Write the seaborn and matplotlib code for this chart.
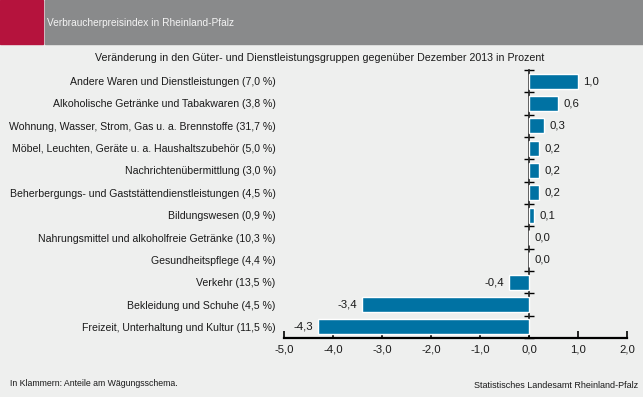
import numpy as np
import pandas as pd
import matplotlib
matplotlib.use("Agg")
import matplotlib.pyplot as plt
from matplotlib.patches import Rectangle
from matplotlib.ticker import FixedLocator, FuncFormatter, NullFormatter
import seaborn as sns

# ---- data ----
categories = [
    "Andere Waren und Dienstleistungen (7,0 %)",
    "Alkoholische Getränke und Tabakwaren (3,8 %)",
    "Wohnung, Wasser, Strom, Gas u. a. Brennstoffe (31,7 %)",
    "Möbel, Leuchten, Geräte u. a. Haushaltszubehör (5,0 %)",
    "Nachrichtenübermittlung (3,0 %)",
    "Beherbergungs- und Gaststättendienstleistungen (4,5 %)",
    "Bildungswesen (0,9 %)",
    "Nahrungsmittel und alkoholfreie Getränke (10,3 %)",
    "Gesundheitspflege (4,4 %)",
    "Verkehr (13,5 %)",
    "Bekleidung und Schuhe (4,5 %)",
    "Freizeit, Unterhaltung und Kultur (11,5 %)",
]
changes = [1.0, 0.6, 0.3, 0.2, 0.2, 0.2, 0.1, 0.0, 0.0, -0.4, -3.4, -4.3]
x_ticks = [-5.0, -4.0, -3.0, -2.0, -1.0, 0.0, 1.0, 2.0]

title = "Verbraucherpreisindex in Rheinland-Pfalz"
subtitle = "Veränderung in den Güter- und Dienstleistungsgruppen gegenüber Dezember 2013 in Prozent"
note = "In Klammern: Anteile am Wägungsschema."
source = "Statistisches Landesamt Rheinland-Pfalz"

BG = "#eeefee"
BAR = "#0072a3"
RED = "#b5133d"
GREY = "#898a8b"
TXT = "#1a1a1a"

sns.set_theme(style="white")
plt.rcParams["font.family"] = ["Liberation Sans", "DejaVu Sans"]
plt.rcParams["font.size"] = 7.6

df = pd.DataFrame({"Gruppe": categories, "Veränderung": changes})

fig = plt.figure(figsize=(6.43, 3.97), dpi=100, facecolor=BG)
ax = fig.add_axes([0.4417, 0.1486, 0.5334, 0.6751])
ax.set_facecolor(BG)

sns.barplot(data=df, x="Veränderung", y="Gruppe", color=BAR, width=0.68,
            orient="h", saturation=1, ax=ax)

ax.set_xlim(-5, 2)
ax.set_ylim(len(categories) - 0.5, -0.5)
ax.set_xlabel("")
ax.set_ylabel("")

def de_fmt(v, pos=None):
    return f"{v:.1f}".replace(".", ",")

ax.xaxis.set_major_locator(FixedLocator(x_ticks))
ax.xaxis.set_major_formatter(FuncFormatter(de_fmt))
ax.tick_params(axis="x", direction="in", length=5, width=1.2, color="black",
               labelsize=8.2, pad=5, bottom=True, labelcolor=TXT)
ax.tick_params(axis="y", length=0, pad=6, labelsize=7.6, labelcolor=TXT)

for s in ["top", "right", "left"]:
    ax.spines[s].set_visible(False)
ax.spines["bottom"].set_color("black")
ax.spines["bottom"].set_linewidth(1.6)

# zero axis with category boundary ticks
zero = ax.secondary_yaxis(5 / 7)
zero.spines["left"].set_color("black")
zero.spines["left"].set_linewidth(1.4)
zero.yaxis.set_major_locator(FixedLocator(np.arange(-0.5, len(categories), 1.0)))
zero.yaxis.set_major_formatter(NullFormatter())
zero.tick_params(axis="y", direction="inout", length=7, width=1, color="black")

ax.bar_label(ax.containers[0], labels=[de_fmt(v) for v in changes],
             padding=4, fontsize=8.2, color=TXT)

# header band
fig.patches.append(Rectangle((0, 1 - 44 / 397), 43 / 643, 44 / 397,
                             transform=fig.transFigure, color=RED, zorder=0))
fig.patches.append(Rectangle((45 / 643, 1 - 44 / 397), 1, 44 / 397,
                             transform=fig.transFigure, color=GREY, zorder=0))
fig.text(47 / 643, 1 - 23 / 397, title, color="#f4f4f4", fontsize=7.3,
         va="center", ha="left")
fig.text(320 / 643, 1 - 58 / 397, subtitle, fontsize=7.7, va="center",
         ha="center", color=TXT)
fig.text(10 / 643, 1 - 384 / 397, note, fontsize=6.3, va="center", ha="left",
         color=TXT)
fig.text(638 / 643, 1 - 386 / 397, source, fontsize=6.5, va="center",
         ha="right", color=TXT)

fig.savefig("out.png", dpi=100, facecolor=BG)
